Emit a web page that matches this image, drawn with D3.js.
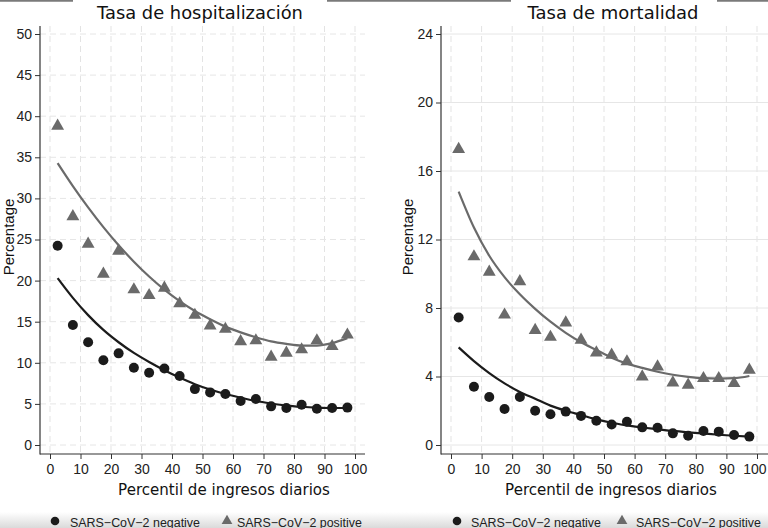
<!DOCTYPE html>
<html><head><meta charset="utf-8">
<script src="https://cdn.jsdelivr.net/npm/d3@7"></script>
<style>body{margin:0;background:#fff} svg{display:block}</style>
</head><body><svg id="c" width="768" height="528"></svg>
<script>
// ---- data ----
const pctX = [2.5,7.5,12.5,17.5,22.5,27.5,32.5,37.5,42.5,47.5,52.5,57.5,62.5,67.5,72.5,77.5,82.5,87.5,92.5,97.5];

const hospNeg = [24.25,14.6,12.5,10.3,11.15,9.4,8.8,9.3,8.4,6.8,6.4,6.2,5.35,5.6,4.7,4.5,4.9,4.4,4.5,4.55];
const hospPos = [38.8,27.8,24.45,20.8,23.6,18.9,18.2,19.1,17.2,15.8,14.5,14.1,12.6,12.7,10.7,11.2,11.6,12.7,12.0,13.4];
const hospNegFit = [20.3,17.9,15.8,14.0,12.5,11.2,10.1,9.1,8.2,7.4,6.75,6.2,5.75,5.35,5.05,4.8,4.65,4.55,4.5,4.5];
const hospPosFit = [34.3,31.5,28.9,26.5,24.3,22.3,20.5,18.9,17.5,16.3,15.3,14.4,13.7,13.1,12.6,12.3,12.1,12.1,12.4,13.0];

const mortNeg = [7.45,3.4,2.8,2.1,2.8,2.0,1.8,1.95,1.7,1.42,1.2,1.36,1.03,1.01,0.68,0.54,0.82,0.78,0.58,0.49];
const mortPos = [17.27,11.0,10.1,7.6,9.55,6.7,6.3,7.14,6.13,5.39,5.26,4.87,3.99,4.57,3.64,3.5,3.89,3.89,3.6,4.38];
const mortNegFit = [5.7,4.9,4.2,3.6,3.1,2.7,2.3,2.0,1.75,1.5,1.3,1.15,1.02,0.92,0.82,0.74,0.67,0.6,0.54,0.49];
const mortPosFit = [14.8,12.7,11.05,9.8,8.8,7.95,7.2,6.55,6.0,5.55,5.1,4.75,4.5,4.28,4.1,3.98,3.9,3.88,3.9,4.03];

const xTicks = [0,10,20,30,40,50,60,70,80,90,100];
const hospYTicks = [0,5,10,15,20,25,30,35,40,45,50];
const mortYTicks = [0,4,8,12,16,20,24];

const titles = ["Tasa de hospitalización","Tasa de mortalidad"];
const xTitle = "Percentil de ingresos diarios";
const yTitle = "Percentage";
const legendLabels = ["SARS\u2212CoV\u22122 negative","SARS\u2212CoV\u22122 positive"];

// ---- drawing ----
const svg = d3.select("#c");
const defs = svg.append("defs");
const grad = defs.append("linearGradient").attr("id","shade").attr("x1",0).attr("y1",0).attr("x2",0).attr("y2",1);
grad.append("stop").attr("offset","0%").attr("stop-color","#ffffff");
grad.append("stop").attr("offset","100%").attr("stop-color","#dadada");
svg.append("rect").attr("x",0).attr("y",512).attr("width",768).attr("height",16).attr("fill","url(#shade)");

// top bar remnants
[[0,73],[327,511],[717,768]].forEach(([a,b])=>{
  svg.append("line").attr("x1",a).attr("x2",b).attr("y1",0.8).attr("y2",0.8)
    .attr("stroke","#7a7a7a").attr("stroke-width",1.8);
});

const NEG = "#1b1b1b", POS = "#6a6a6a";

function fitWidth(sel, target){
  const w = sel.node().getComputedTextLength();
  const fs = parseFloat(sel.attr("font-size"));
  sel.attr("font-size", (fs*target/w).toFixed(2));
}

function panel(cfg){
  const g = svg.append("g");
  const x = d3.scaleLinear().domain([0,100]).range(cfg.xr);
  const y = d3.scaleLinear().domain([0,cfg.yMax]).range([445,34]);
  const top = 26, bottom = 454;

  // grid
  g.append("g").selectAll("line").data(xTicks).join("line")
    .attr("x1",d=>x(d)).attr("x2",d=>x(d)).attr("y1",top).attr("y2",bottom)
    .attr("stroke","#e3e3e3").attr("stroke-width",1).attr("stroke-dasharray","6,4");
  g.append("g").selectAll("line").data(cfg.yTicks).join("line")
    .attr("x1",cfg.axisX).attr("x2",cfg.rightEnd).attr("y1",d=>y(d)).attr("y2",d=>y(d))
    .attr("stroke","#e6e6e6").attr("stroke-width",1).attr("stroke-dasharray",cfg.hDash?"6,4":null);

  // axes
  const ya = g.append("g").attr("transform",`translate(${cfg.axisX},0)`)
    .call(d3.axisLeft(y).tickValues(cfg.yTicks).tickSize(5).tickPadding(3));
  ya.select(".domain").remove();
  ya.selectAll("text").attr("font-family","Liberation Sans, Arial, sans-serif").attr("font-size",14).attr("fill","#222");
  ya.selectAll("line").attr("stroke","#333");
  const xa = g.append("g").attr("transform",`translate(0,${bottom})`)
    .call(d3.axisBottom(x).tickValues(xTicks).tickSize(5).tickPadding(5));
  xa.select(".domain").remove();
  xa.selectAll("text").attr("font-family","Liberation Sans, Arial, sans-serif").attr("font-size",14).attr("fill","#222");
  xa.selectAll("line").attr("stroke","#333");
  if (cfg.lastLabelEnd) {
    xa.selectAll("text").filter(d=>d===100).attr("text-anchor","end").attr("x", cfg.lastLabelEnd - x(100));
  }
  g.append("line").attr("x1",cfg.axisX).attr("x2",cfg.axisX).attr("y1",top).attr("y2",bottom+0.5)
    .attr("stroke","#333").attr("stroke-width",1.2);
  g.append("line").attr("x1",cfg.axisX).attr("x2",cfg.rightEnd).attr("y1",bottom).attr("y2",bottom)
    .attr("stroke","#333").attr("stroke-width",1.2);

  // fitted curves
  const line = d3.line().x((d,i)=>x(pctX[i])).y(d=>y(d)).curve(d3.curveMonotoneX);
  g.append("path").attr("d",line(cfg.posFit)).attr("fill","none").attr("stroke",POS).attr("stroke-width",2.2);
  g.append("path").attr("d",line(cfg.negFit)).attr("fill","none").attr("stroke",NEG).attr("stroke-width",2.2);

  // markers
  g.append("g").selectAll("path").data(cfg.pos).join("path")
    .attr("d",d3.symbol(d3.symbolTriangle,72))
    .attr("transform",(d,i)=>`translate(${x(pctX[i])},${y(d)})`).attr("fill",POS);
  g.append("g").selectAll("circle").data(cfg.neg).join("circle")
    .attr("cx",(d,i)=>x(pctX[i])).attr("cy",d=>y(d)).attr("r",5).attr("fill",NEG);

  // titles
  const t = svg.append("text").attr("x",cfg.titleX).attr("y",18.5).attr("text-anchor","middle")
    .attr("font-family","DejaVu Sans, Verdana, sans-serif").attr("font-size",16).attr("fill","#111").text(cfg.title);
  fitWidth(t, cfg.titleW);
  const xt = svg.append("text").attr("x",cfg.xtitleX).attr("y",495).attr("text-anchor","middle")
    .attr("font-family","DejaVu Sans, Verdana, sans-serif").attr("font-size",14).attr("fill","#111").text(xTitle);
  fitWidth(xt, 212);
  svg.append("text").attr("transform",`translate(${cfg.ytitleX},237) rotate(-90)`).attr("text-anchor","middle")
    .attr("dominant-baseline","central")
    .attr("font-family","Liberation Sans, Arial, sans-serif").attr("font-size",15).attr("fill","#111").text(yTitle);

  // legend
  const lg = svg.append("g");
  lg.append("circle").attr("cx",cfg.legX[0]).attr("cy",521).attr("r",4.3).attr("fill",NEG);
  const l1 = lg.append("text").attr("x",cfg.legX[1]).attr("y",526.5)
    .attr("font-family","Liberation Sans, Arial, sans-serif").attr("font-size",13).attr("fill","#222").text(legendLabels[0]);
  fitWidth(l1, 130);
  lg.append("path").attr("d",d3.symbol(d3.symbolTriangle,50)).attr("transform",`translate(${cfg.legX[2]},521)`).attr("fill",POS);
  const l2 = lg.append("text").attr("x",cfg.legX[3]).attr("y",526.5)
    .attr("font-family","Liberation Sans, Arial, sans-serif").attr("font-size",13).attr("fill","#222").text(legendLabels[1]);
  fitWidth(l2, 125);
}

panel({axisX:40,rightEnd:365,xr:[50,355],yMax:50,yTicks:hospYTicks,hDash:true,
  title:titles[0],titleX:200,titleW:206,xtitleX:224,ytitleX:8,
  neg:hospNeg,pos:hospPos,negFit:hospNegFit,posFit:hospPosFit,legX:[55,70,227,237]});
panel({axisX:441,rightEnd:768,xr:[451,757],yMax:24,yTicks:mortYTicks,hDash:false,
  title:titles[1],titleX:613,titleW:171,xtitleX:611,ytitleX:407,lastLabelEnd:766,
  neg:mortNeg,pos:mortPos,negFit:mortNegFit,posFit:mortPosFit,legX:[457,471,622,636]});
</script></body></html>
